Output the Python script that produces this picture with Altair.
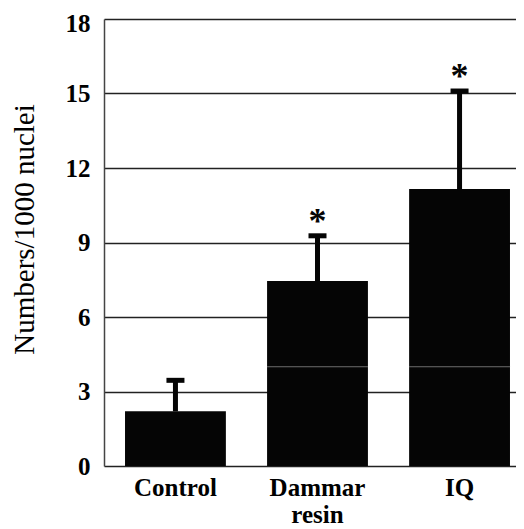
import altair as alt
import pandas as pd

categories = ["Control", "Dammar resin", "IQ"]
means = [2.2, 7.45, 11.15]
err_tops = [3.45, 9.27, 15.1]
marks = ["", "*", "*"]
inner_line = [None, 4.0, 4.0]
y_ticks = [0, 3, 6, 9, 12, 15, 18]

df = pd.DataFrame({"cat": categories, "mean": means, "top": err_tops,
                   "sig": marks, "inner": inner_line})

serif = "Liberation Serif"
xscale = alt.Scale(domain=categories, range=[0, 427], paddingInner=0.29, paddingOuter=0.148)
x = alt.X("cat:N", sort=categories, scale=xscale,
          axis=alt.Axis(title=None, labelAngle=0, labelFont=serif, labelFontWeight="bold",
                        labelFontSize=25, labelColor="black", labelPadding=9, ticks=False,
                        domain=False, labelLineHeight=27,
                        labelExpr="datum.label == 'Dammar resin' ? ['Dammar', 'resin'] : datum.label"))
yscale = alt.Scale(domain=[0, 18], nice=False)

bars = alt.Chart(df).mark_bar(color="#050505").encode(
    x=x,
    y=alt.Y("mean:Q", scale=yscale,
            axis=alt.Axis(values=y_ticks, title="Numbers/1000 nuclei", titleFont=serif,
                          titleFontWeight="normal", titleFontSize=29, titleColor="black",
                          titleX=-80, titleY=210, titleAngle=-90, titleAlign="center",
                          titleBaseline="middle",
                          labelFont=serif, labelFontWeight="bold", labelFontSize=25,
                          labelColor="black", labelPadding=14, ticks=False,
                          labelOffset=alt.condition("datum.value == 18", alt.value(4), alt.value(0)),
                          grid=True, gridColor="#222222", gridWidth=1.6,
                          domainColor="#444444", domainWidth=1.5)),
)

inner = alt.Chart(df).mark_tick(color="#6e6e6e", size=101, thickness=1, opacity=1,
                                orient="horizontal").encode(
    x=x, y=alt.Y("inner:Q", scale=yscale))

stems = alt.Chart(df).mark_rule(color="#050505", strokeWidth=5).encode(
    x=x, y=alt.Y("mean:Q", scale=yscale), y2="top:Q")

caps = alt.Chart(df).mark_tick(color="#050505", size=18, thickness=5, opacity=1,
                               orient="horizontal").encode(
    x=x, y=alt.Y("top:Q", scale=yscale))

stars = alt.Chart(df).mark_text(font=serif, fontWeight="bold", fontSize=36, baseline="top",
                                dy=-31, color="#050505").encode(
    x=x, y=alt.Y("top:Q", scale=yscale), text="sig:N")

chart = alt.layer(bars, inner, stems, caps, stars).properties(
    width=412, height=447,
    autosize=alt.AutoSizeParams(type="none"),
    padding={"left": 96, "top": 11, "right": 0, "bottom": 62},
).configure_view(stroke=None).configure_axis(gridOpacity=1)

chart.save("out.html", embed_options={"renderer": "svg", "actions": False})
